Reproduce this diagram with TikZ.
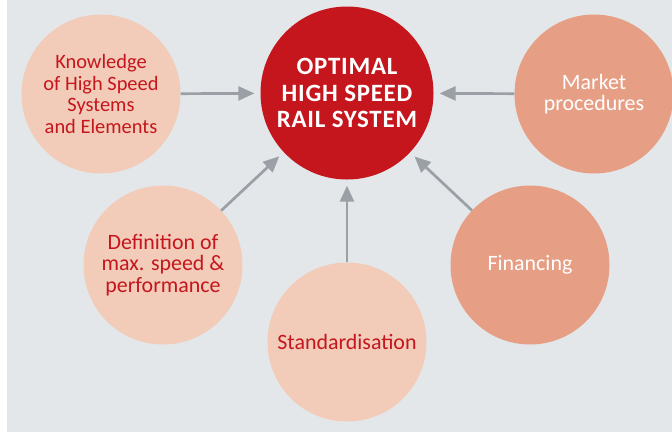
\documentclass[tikz,border=0pt]{standalone}
\usepackage{fontspec}
\setmainfont{Carlito}
\newfontfamily\titlefont[LetterSpace=3]{Carlito}
\usetikzlibrary{arrows.meta}
\definecolor{panel}{HTML}{E3E7EA}
\definecolor{railred}{HTML}{C4161C}
\definecolor{peach}{HTML}{F2CBB9}
\definecolor{salmon}{HTML}{E69F85}
\definecolor{arrowgray}{HTML}{9AA0A6}
\tikzstyle{factor}=[circle,fill=peach,text=railred,minimum size=159bp,inner sep=0pt,align=center,font=\fontsize{22}{21.5}\selectfont]
\tikzstyle{money}=[factor,fill=salmon,text=white]
\tikzstyle{core}=[circle,fill=railred,text=white,minimum size=173bp,inner sep=0pt,align=center,font=\titlefont\fontsize{25}{26.5}\selectfont\bfseries]
\tikzstyle{edge} = [draw,line width=2.7bp,arrowgray,-{Triangle[length=16bp,width=14bp]},shorten >=6bp]

\begin{document}
\begin{tikzpicture}[x=1bp,y=-1bp]
    \useasboundingbox (0,0) rectangle (672,432);
    \fill[panel] (7,0) rectangle (672,432);

    \node[core] (rail) at (347,93) {OPTIMAL\\HIGH SPEED\\RAIL SYSTEM};
    \node[factor,font=\fontsize{20.5}{22}\selectfont] (know) at (101,94) {Knowledge\\of High Speed\\Systems\\and Elements};
    \node[factor] (speed) at (163,265) {Definition of\\max. speed \&\\performance};
    \node[factor] (std) at (347,342) {Standardisation};
    \node[money] (fin) at (530,265) {Financing};
    \node[money] (market) at (594,94) {Market\\procedures};

    \foreach \source in {know, speed, std, fin, market}
        \path[edge] (\source) -- (rail);
\end{tikzpicture}
\end{document}
